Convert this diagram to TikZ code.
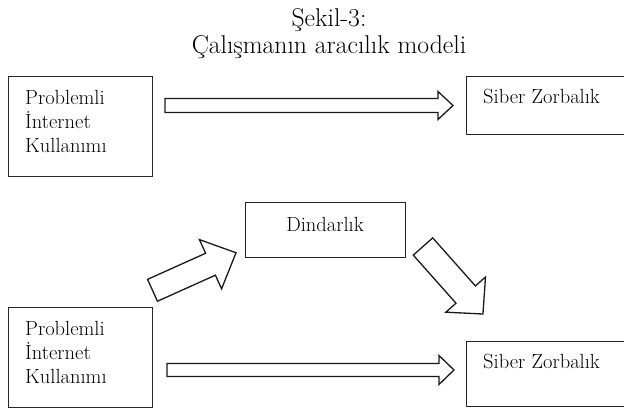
\documentclass[tikz,border=0pt]{standalone}
\usepackage{fontspec}
\begin{document}
\begin{tikzpicture}[x=1pt,y=-1pt,
  box/.style={draw=black!85, line width=0.9pt, rectangle, anchor=north west, inner sep=0pt},
  lbl/.style={inner sep=0pt, font=\fontsize{20.5}{24}\selectfont, align=left, text=black},
  ttl/.style={inner sep=0pt, font=\fontsize{25.7}{27}\selectfont, text=black},
  blockarrow/.style={draw=black!90, line width=1.3pt, fill=white, line join=miter}
]
\useasboundingbox (0,0) rectangle (624,411);

% title
\node[ttl, anchor=base] (t1) at (329,27) {Şekil-3:};
\node[ttl, anchor=base] (t2) at (329,53.3) {Çalışmanın aracılık modeli};

% boxes
\node[box, minimum width=144, minimum height=100] (pik1) at (8,76) {};
\node[box, minimum width=160, minimum height=58] (sz1) at (466,76) {};
\node[box, minimum width=160, minimum height=55] (din) at (245,202) {};
\node[box, minimum width=144, minimum height=100] (pik2) at (8,307) {};
\node[box, minimum width=160, minimum height=65] (sz2) at (466,341) {};

% texts (base = last line)
\node[lbl, anchor=base west] (pik1t) at (25,153) {Problemli\\İnternet\\Kullanımı};
\node[lbl, anchor=base west] (sz1t) at (483,104) {Siber Zorbalık};
\node[lbl, anchor=base] (dint) at (325,232) {Dindarlık};
\node[lbl, anchor=base west] (pik2t) at (25,384) {Problemli\\İnternet\\Kullanımı};
\node[lbl, anchor=base west] (sz2t) at (483,369) {Siber Zorbalık};

% block arrows: tail centre, rotation; shaft half-width, head half-width, head length
% a1: pik1 -> sz1
\begin{scope}[shift={(165,105.5)}]
  \draw[blockarrow] (0,-7) -- (273,-7) -- (273,-14) -- (288,0) -- (273,14) -- (273,7) -- (0,7) -- cycle;
\end{scope}
% a2: pik2 -> sz2
\begin{scope}[shift={(167,370)}]
  \draw[blockarrow] (0,-6.5) -- (272,-6.5) -- (272,-14.5) -- (287,0) -- (272,14.5) -- (272,6.5) -- (0,6.5) -- cycle;
\end{scope}
% a3: pik2 -> din
\begin{scope}[shift={(152.5,290.3)}, rotate=24.2]
  \draw[blockarrow] (0,-12) -- (63.6,-12) -- (63.6,-27) -- (91.6,0) -- (63.6,27) -- (63.6,12) -- (0,12) -- cycle;
\end{scope}
% a4: din -> sz2
\begin{scope}[shift={(423,246.5)}, rotate=-48.4]
  \draw[blockarrow] (0,-13) -- (64.3,-13) -- (64.3,-26.5) -- (90.3,0) -- (64.3,26.5) -- (64.3,13) -- (0,13) -- cycle;
\end{scope}
\end{tikzpicture}
\end{document}
